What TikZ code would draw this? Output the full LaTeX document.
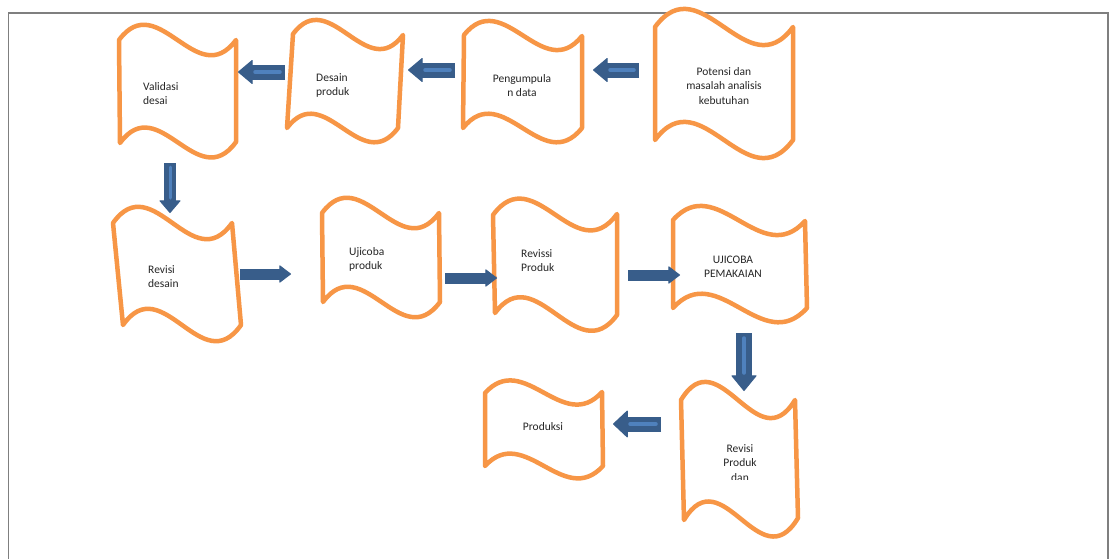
\documentclass[tikz,border=0pt]{standalone}
\usepackage{fontspec}
\setmainfont{Carlito}
\usetikzlibrary{calc,arrows.meta}
\definecolor{tapeor}{HTML}{F79646}
\definecolor{arrdark}{HTML}{385D8A}
\definecolor{arrlight}{HTML}{4F81BD}
\definecolor{framegray}{HTML}{7F7F7F}
\definecolor{txt}{HTML}{262626}
\newcommand\tapeshape[9]{%
  \pgfmathsetmacro\hh{3.3*#9}%
  \filldraw[tapestyle] (#1,#2) .. controls ($(#1,#2)!1/3!(#3,#4)+(0,-\hh)$) and ($(#1,#2)!2/3!(#3,#4)+(0,\hh)$) .. (#3,#4)
    -- (#5,#6) .. controls ($(#7,#8)!2/3!(#5,#6)+(0,\hh)$) and ($(#7,#8)!1/3!(#5,#6)+(0,-\hh)$) .. (#7,#8) -- cycle;}
\newcommand\blockarr[5]{%
  \draw[arrdark, line width=#3pt, -{Triangle[width=#4pt,length=#5pt,line width=1pt,round]}] (#1) -- (#2);}
\begin{document}
\begin{tikzpicture}[x=1pt,y=-1pt,
  tapestyle/.style={draw=tapeor, fill=white, line width=4.5pt, line join=round, line cap=round},
  lbl/.style={inner sep=0pt, font=\fontsize{11.5}{14.5}\selectfont, text=txt},
  innerline/.style={arrlight, line width=3.5pt, line cap=round}]
\useasboundingbox (0,0) rectangle (1112,558);
\fill[white] (0,0) rectangle (1112,558);
\draw[framegray, line width=1.5pt] (8.5,560) -- (8.5,13) -- (1108,13) -- (1108,560);

% tapes
\tapeshape{119}{40}{236}{40}{236}{142}{120}{143}{16}
\tapeshape{293}{34}{403}{35}{398}{128}{287}{128}{15}
\tapeshape{464}{35}{582}{36}{582}{128}{463}{128}{15}
\tapeshape{655}{27}{793}{27}{793}{140}{655}{140}{19}
\tapeshape{113}{223}{232}{223}{241}{325}{123}{325}{17}
\tapeshape{322}{213}{439}{213}{440}{302}{323}{302}{16}
\tapeshape{493}{215}{617}{214}{617}{315}{495}{313}{17}
\tapeshape{673}{220}{805}{221}{807}{308}{673}{308}{15}
\tapeshape{681}{400}{795}{400}{798}{518}{684}{520}{19}
\tapeshape{485}{393}{602}{392}{603}{466}{485}{466}{13}

% labels (base anchor = baseline of the last line)
\node[lbl, align=left, anchor=base west] (n1) at (143,104.5) {Validasi\\desai};
\node[lbl, align=left, anchor=base west] (n2) at (316,95.5) {Desain\\produk};
\node[lbl, align=center, anchor=base] (n3) at (522,96.5) {Pengumpula\\n data};
\node[lbl, align=center, anchor=base] (n4) at (724,104) {Potensi dan\\masalah analisis\\kebutuhan};
\node[lbl, align=left, anchor=base west] (n5) at (148,287.5) {Revisi\\desain};
\node[lbl, align=left, anchor=base west] (n6) at (349,269.5) {Ujicoba\\produk};
\node[lbl, align=left, anchor=base west] (n7) at (521,271.5) {Revissi\\Produk};
\node[lbl, align=center, anchor=base] (n8) at (733,277.5) {UJICOBA\\PEMAKAIAN};
\begin{scope}
\clip (600,300) rectangle (900,479);
\node[lbl, align=center, anchor=base] (n9) at (740,481) {Revisi\\Produk\\dan};
\end{scope}
\node[lbl, align=center, anchor=base] (n10) at (543,430) {Produksi};

% arrow end points
\coordinate (a1t) at (285,72);  \coordinate (a1h) at (238,72);
\coordinate (a2t) at (455,70);  \coordinate (a2h) at (408,70);
\coordinate (a3t) at (639,70);  \coordinate (a3h) at (593,70);
\coordinate (a4t) at (170,163); \coordinate (a4h) at (170,213);
\coordinate (a5t) at (240,274); \coordinate (a5h) at (291,274);
\coordinate (a6t) at (445,278); \coordinate (a6h) at (497,278);
\coordinate (a7t) at (628,275); \coordinate (a7h) at (680,275);
\coordinate (a8t) at (744,333); \coordinate (a8h) at (744,391);
\coordinate (a9t) at (661,424); \coordinate (a9h) at (613,424);

\blockarr{a1t}{a1h}{15}{25}{15}
\draw[innerline, shorten <=5pt, shorten >=17pt] (a1t) -- (a1h);
\blockarr{a2t}{a2h}{15}{25}{15}
\draw[innerline, shorten <=5pt, shorten >=17pt] (a2t) -- (a2h);
\blockarr{a3t}{a3h}{15}{25}{15}
\draw[innerline, shorten <=5pt, shorten >=17pt] (a3t) -- (a3h);
\blockarr{a4t}{a4h}{12}{22}{13}
\draw[innerline, line width=3pt, shorten <=4pt, shorten >=15pt] (a4t) -- (a4h);
\blockarr{a5t}{a5h}{11}{18}{12}
\blockarr{a6t}{a6h}{11}{18}{12}
\blockarr{a7t}{a7h}{11}{18}{12}
\blockarr{a8t}{a8h}{16}{26}{16}
\draw[innerline, shorten <=5pt, shorten >=18pt] (a8t) -- (a8h);
\blockarr{a9t}{a9h}{15}{28}{15}
\draw[innerline, shorten <=5pt, shorten >=17pt] (a9t) -- (a9h);
\end{tikzpicture}
\end{document}
